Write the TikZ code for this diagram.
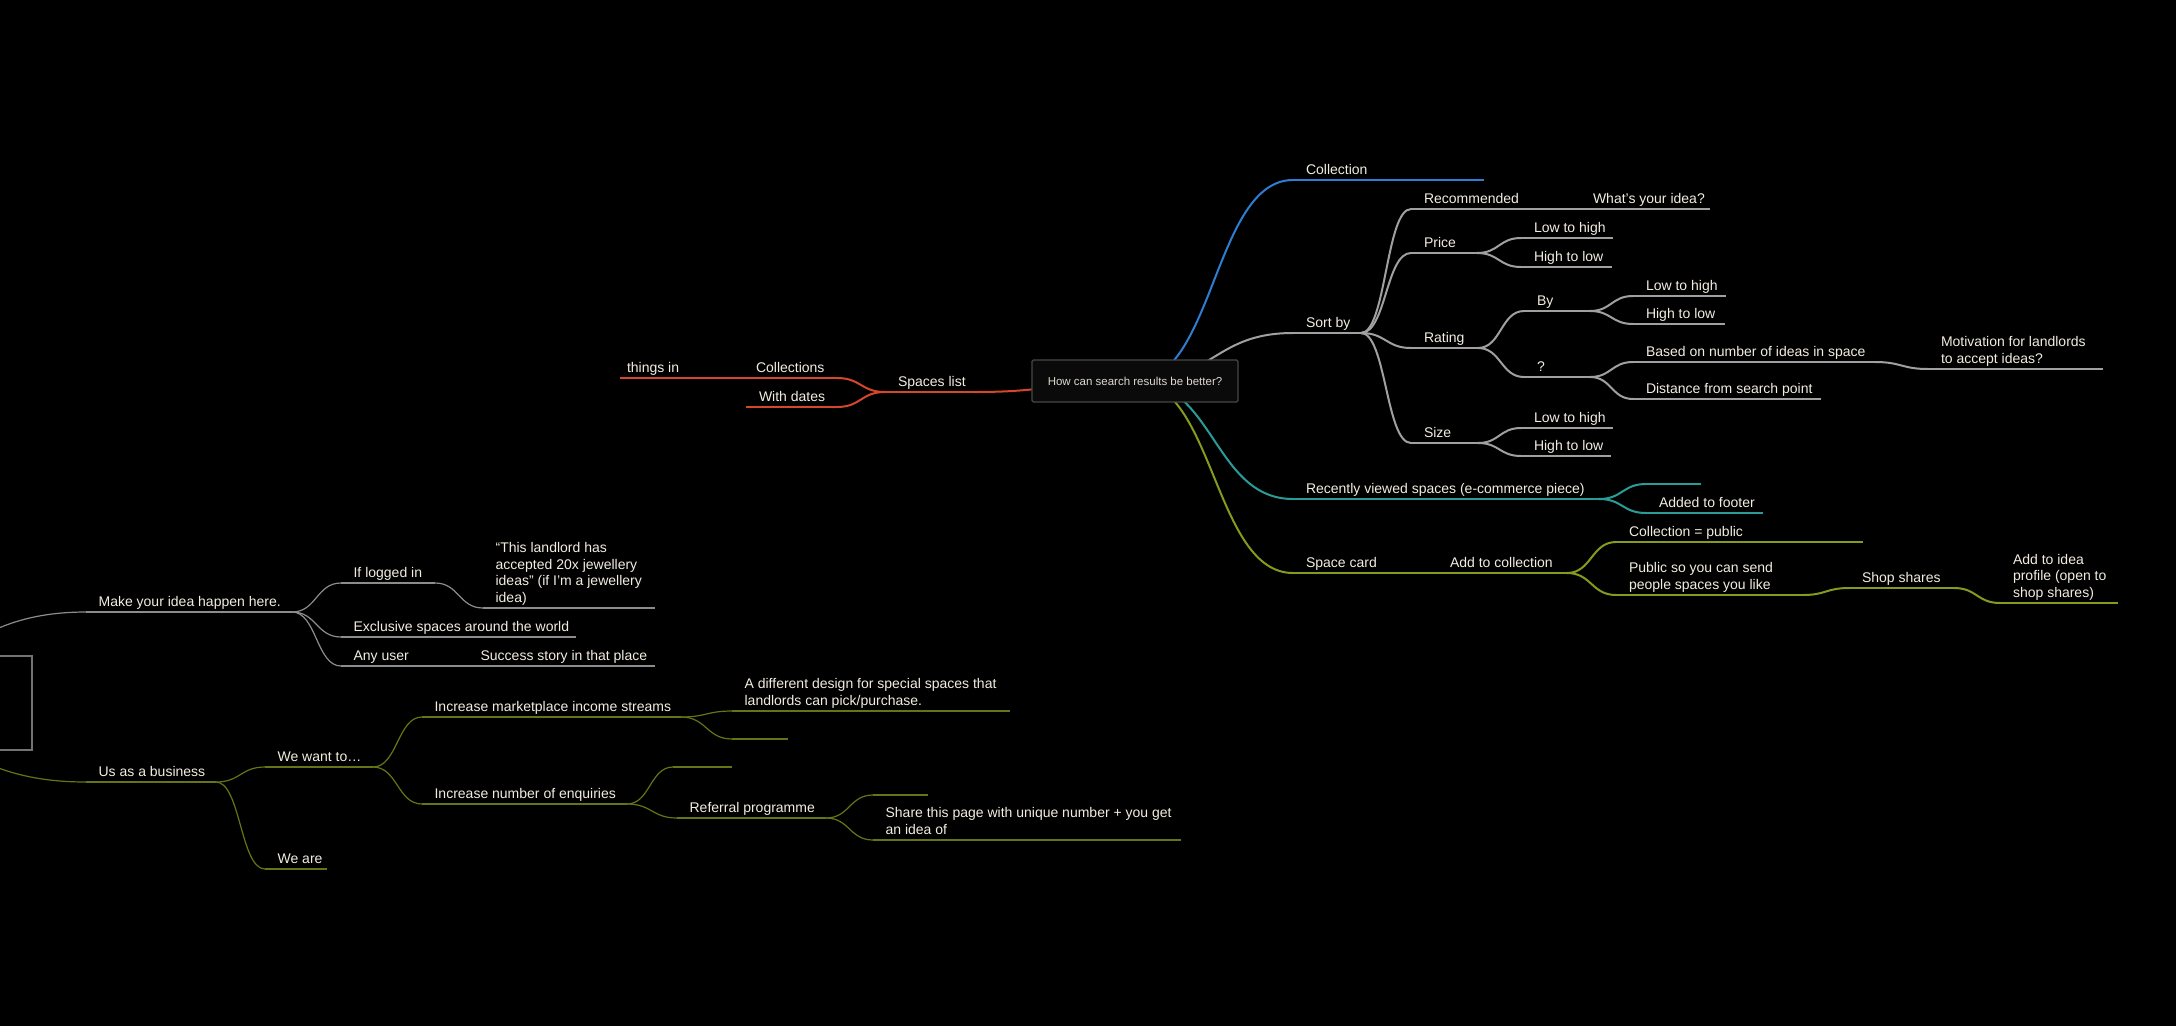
\documentclass[tikz,border=0pt]{standalone}
\usepackage{fontspec}
\setmainfont{Liberation Sans}
\usetikzlibrary{calc}

\definecolor{cream}{HTML}{F2EDE0}
\definecolor{boxtext}{HTML}{DDD9CE}
\definecolor{linegray}{HTML}{A0A0A0}
\definecolor{thingray}{HTML}{8C8C8C}
\definecolor{mapblue}{HTML}{2D7DD2}
\definecolor{mapteal}{HTML}{2A9C98}
\definecolor{mapolive}{HTML}{879A1C}
\definecolor{darkolive}{HTML}{667416}
\definecolor{mapred}{HTML}{D5462A}

\begin{document}
\begin{tikzpicture}[x=1pt, y=-1pt,
    lab/.style={pos=0, anchor=base west, xshift=12pt, yshift=6pt, inner sep=0pt, text=cream, align=left, font=\fontsize{14}{16.5}\selectfont},
    twig/.style={to path={.. controls ($(\tikztostart)!.5!(\tikztostart -| \tikztotarget)$) and ($(\tikztotarget)!.5!(\tikztotarget -| \tikztostart)$) .. (\tikztotarget)}},
    gl/.style={draw=linegray, line width=2pt},
    bl/.style={draw=mapblue, line width=2pt},
    tl/.style={draw=mapteal, line width=2pt},
    ol/.style={draw=mapolive, line width=2pt},
    rl/.style={draw=mapred, line width=2pt},
    gl2/.style={draw=thingray, line width=1.2pt},
    ol2/.style={draw=darkolive, line width=1.2pt}]

    \useasboundingbox (0,0) rectangle (2176,1026);
    \fill[black] (0,0) rectangle (2176,1026);

    \coordinate (hub) at (1135,381);
    \coordinate (hub2) at (-193,703);

    % right side
    \draw[bl] (1293,180) coordinate (coll-a) -- node[lab] (coll) {Collection} (1484,180) coordinate (coll-b);

    \draw[gl] (1293,333) coordinate (sortby-a) -- node[lab] (sortby) {Sort by} (1361,333) coordinate (sortby-b);
    \draw[gl] (1411,209) coordinate (rec-a) -- node[lab] (rec) {Recommended} (1580,209) coordinate (rec-b);
    \draw[gl] (rec-b) -- node[lab] (idea) {What’s your idea?} (1710,209) coordinate (idea-b);
    \draw[gl] (1411,253) coordinate (price-a) -- node[lab] (price) {Price} (1477,253) coordinate (price-b);
    \draw[gl] (1521,238) coordinate (plh-a) -- node[lab] (plh) {Low to high} (1613,238) coordinate (plh-b);
    \draw[gl] (1521,267) coordinate (phl-a) -- node[lab] (phl) {High to low} (1612,267) coordinate (phl-b);
    \draw[gl] (1411,348) coordinate (rating-a) -- node[lab] (rating) {Rating} (1478,348) coordinate (rating-b);
    \draw[gl] (1524,311) coordinate (by-a) -- node[lab] (by) {By} (1590,311) coordinate (by-b);
    \draw[gl] (1633,296) coordinate (rlh-a) -- node[lab] (rlh) {Low to high} (1726,296) coordinate (rlh-b);
    \draw[gl] (1633,324) coordinate (rhl-a) -- node[lab] (rhl) {High to low} (1725,324) coordinate (rhl-b);
    \draw[gl] (1524,377) coordinate (q-a) -- node[lab] (q) {?} (1590,377) coordinate (q-b);
    \draw[gl] (1633,362) coordinate (based-a) -- node[lab] (based) {Based on number of ideas in space} (1875,362) coordinate (based-b);
    \draw[gl] (1928,369) coordinate (motiv-a) -- node[lab] (motiv) {Motivation for landlords\\to accept ideas?} (2103,369) coordinate (motiv-b);
    \draw[gl] (1633,399) coordinate (dist-a) -- node[lab] (dist) {Distance from search point} (1821,399) coordinate (dist-b);
    \draw[gl] (1411,443) coordinate (size-a) -- node[lab] (size) {Size} (1478,443) coordinate (size-b);
    \draw[gl] (1521,428) coordinate (slh-a) -- node[lab] (slh) {Low to high} (1613,428) coordinate (slh-b);
    \draw[gl] (1521,456) coordinate (shl-a) -- node[lab] (shl) {High to low} (1611,456) coordinate (shl-b);

    \draw[tl] (1293,499) coordinate (recent-a) -- node[lab] (recent) {Recently viewed spaces (e-commerce piece)} (1599,499) coordinate (recent-b);
    \draw[tl] (1646,484) coordinate (blank1-a) -- (1701,484) coordinate (blank1-b);
    \draw[tl] (1646,513) coordinate (footer-a) -- node[lab] (footer) {Added to footer} (1763,513) coordinate (footer-b);

    \draw[ol] (1293,573) coordinate (card-a) -- node[lab] (card) {Space card} (1437,573) coordinate (card-b);
    \draw[ol] (card-b) -- node[lab] (addcoll) {Add to collection} (1567,573) coordinate (addcoll-b);
    \draw[ol] (1616,542) coordinate (public-a) -- node[lab] (public) {Collection = public} (1863,542) coordinate (public-b);
    \draw[ol] (1616,595) coordinate (send-a) -- node[lab] (send) {Public so you can send\\people spaces you like} (1803,595) coordinate (send-b);
    \draw[ol] (1849,588) coordinate (shop-a) -- node[lab] (shop) {Shop shares} (1954,588) coordinate (shop-b);
    \draw[ol] (2000,603) coordinate (addidea-a) -- node[lab] (addidea) {Add to idea\\profile (open to\\shop shares)} (2118,603) coordinate (addidea-b);

    % left of the box
    \draw[rl] (885,392) coordinate (spaces-a) -- node[lab] (spaces) {Spaces list} (975,392) coordinate (spaces-b);
    \draw[rl] (743,378) coordinate (colls-a) -- node[lab] (colls) {Collections} (837,378) coordinate (colls-b);
    \draw[rl] (620,378) coordinate (things-a) -- node[lab, xshift=-6pt] (things) {things in} (colls-a);
    \draw[rl] (746,407) coordinate (dates-a) -- node[lab] (dates) {With dates} (837,407) coordinate (dates-b);

    % second map
    \draw[gl2] (86,612) coordinate (make-a) -- node[lab] (make) {Make your idea happen here.} (292,612) coordinate (make-b);
    \draw[gl2] (341,583) coordinate (logged-a) -- node[lab] (logged) {If logged in} (435,583) coordinate (logged-b);
    \draw[gl2] (483,608) coordinate (quote-a) -- node[lab] (quote) {“This landlord has\\accepted 20x jewellery\\ideas” (if I’m a jewellery\\idea)} (655,608) coordinate (quote-b);
    \draw[gl2] (341,637) coordinate (excl-a) -- node[lab] (excl) {Exclusive spaces around the world} (576,637) coordinate (excl-b);
    \draw[gl2] (341,666) coordinate (anyuser-a) -- node[lab] (anyuser) {Any user} (468,666) coordinate (anyuser-b);
    \draw[gl2] (anyuser-b) -- node[lab] (story) {Success story in that place} (655,666) coordinate (story-b);

    \draw[ol2] (86,782) coordinate (biz-a) -- node[lab] (biz) {Us as a business} (216,782) coordinate (biz-b);
    \draw[ol2] (265,767) coordinate (want-a) -- node[lab] (want) {We want to…} (373,767) coordinate (want-b);
    \draw[ol2] (422,717) coordinate (income-a) -- node[lab] (income) {Increase marketplace income streams} (681,717) coordinate (income-b);
    \draw[ol2] (732,711) coordinate (design-a) -- node[lab] (design) {A different design for special spaces that\\landlords can pick/purchase.} (1010,711) coordinate (design-b);
    \draw[ol2] (732,739) coordinate (blank2-a) -- (788,739) coordinate (blank2-b);
    \draw[ol2] (422,804) coordinate (enq-a) -- node[lab] (enq) {Increase number of enquiries} (627,804) coordinate (enq-b);
    \draw[ol2] (673,767) coordinate (blank3-a) -- (732,767) coordinate (blank3-b);
    \draw[ol2] (677,818) coordinate (referral-a) -- node[lab] (referral) {Referral programme} (826,818) coordinate (referral-b);
    \draw[ol2] (873,795) coordinate (blank4-a) -- (928,795) coordinate (blank4-b);
    \draw[ol2] (873,840) coordinate (share-a) -- node[lab] (share) {Share this page with unique number + you get\\an idea of} (1181,840) coordinate (share-b);
    \draw[ol2] (265,869) coordinate (weare-a) -- node[lab] (weare) {We are} (327,869) coordinate (weare-b);

    % connectors
    \draw[bl] (hub) to[twig] (coll-a);
    \draw[gl] (hub) to[twig] (sortby-a);
    \draw[tl] (hub) to[twig] (recent-a);
    \draw[ol] (hub) to[twig] (card-a);
    \draw[rl] (hub) to[twig] (spaces-b);

    \draw[gl] (sortby-b) to[twig] (rec-a);
    \draw[gl] (sortby-b) to[twig] (price-a);
    \draw[gl] (sortby-b) to[twig] (rating-a);
    \draw[gl] (sortby-b) to[twig] (size-a);
    \draw[gl] (price-b) to[twig] (plh-a);
    \draw[gl] (price-b) to[twig] (phl-a);
    \draw[gl] (rating-b) to[twig] (by-a);
    \draw[gl] (rating-b) to[twig] (q-a);
    \draw[gl] (by-b) to[twig] (rlh-a);
    \draw[gl] (by-b) to[twig] (rhl-a);
    \draw[gl] (q-b) to[twig] (based-a);
    \draw[gl] (q-b) to[twig] (dist-a);
    \draw[gl] (based-b) to[twig] (motiv-a);
    \draw[gl] (size-b) to[twig] (slh-a);
    \draw[gl] (size-b) to[twig] (shl-a);

    \draw[tl] (recent-b) to[twig] (blank1-a);
    \draw[tl] (recent-b) to[twig] (footer-a);

    \draw[ol] (addcoll-b) to[twig] (public-a);
    \draw[ol] (addcoll-b) to[twig] (send-a);
    \draw[ol] (send-b) to[twig] (shop-a);
    \draw[ol] (shop-b) to[twig] (addidea-a);

    \draw[rl] (colls-b) to[twig] (spaces-a);
    \draw[rl] (dates-b) to[twig] (spaces-a);

    \draw[gl2] (hub2) to[twig] (make-a);
    \draw[gl2] (make-b) to[twig] (logged-a);
    \draw[gl2] (make-b) to[twig] (excl-a);
    \draw[gl2] (make-b) to[twig] (anyuser-a);
    \draw[gl2] (logged-b) to[twig] (quote-a);

    \draw[ol2] (hub2) to[twig] (biz-a);
    \draw[ol2] (biz-b) to[twig] (want-a);
    \draw[ol2] (biz-b) to[twig] (weare-a);
    \draw[ol2] (want-b) to[twig] (income-a);
    \draw[ol2] (want-b) to[twig] (enq-a);
    \draw[ol2] (income-b) to[twig] (design-a);
    \draw[ol2] (income-b) to[twig] (blank2-a);
    \draw[ol2] (enq-b) to[twig] (blank3-a);
    \draw[ol2] (enq-b) to[twig] (referral-a);
    \draw[ol2] (referral-b) to[twig] (blank4-a);
    \draw[ol2] (referral-b) to[twig] (share-a);

    % the boxes on top
    \node[draw=black!72, fill=black!96, line width=1.2pt, rounded corners=1.5pt, minimum width=206pt, minimum height=42pt, text=boxtext, font=\fontsize{11.5}{14}\selectfont] (root) at (hub) {How can search results be better?};

    \node[draw=black!55, fill=black, line width=1.5pt, minimum width=450pt, minimum height=94pt] (root2) at (hub2) {};
\end{tikzpicture}
\end{document}
